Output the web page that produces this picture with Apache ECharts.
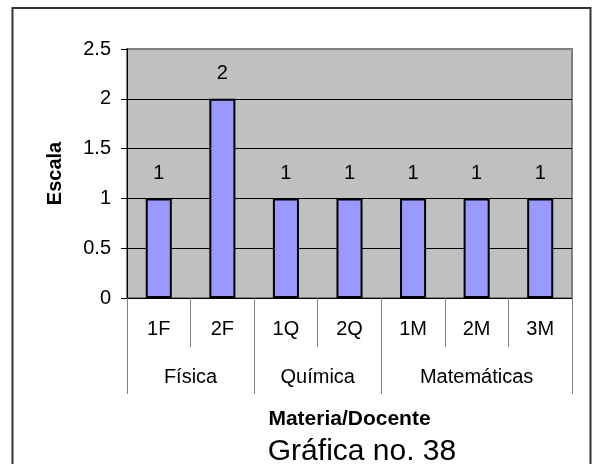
<!DOCTYPE html>
<html>
<head>
<meta charset="utf-8">
<script src="https://cdn.jsdelivr.net/npm/echarts@6/dist/echarts.min.js"></script>
<style>
html,body{margin:0;padding:0;background:#fff;}
#chart{width:592px;height:464px;}
</style>
</head>
<body>
<div id="chart"></div>
<script>
const categories = ['1F', '2F', '1Q', '2Q', '1M', '2M', '3M'];
const values = [1, 2, 1, 1, 1, 1, 1];
const groupNames = ['Física', 'Química', 'Matemáticas'];
const groupSizes = [2, 2, 3];
const yTicks = [0, 0.5, 1, 1.5, 2, 2.5];
const yAxisTitle = 'Escala';
const xAxisTitle = 'Materia/Docente';
const chartTitle = 'Gráfica no. 38';

const FONT = "'Liberation Sans', Arial, sans-serif";

// group boundaries and centres, in category units
const groupBounds = [0];
groupSizes.forEach((n, i) => groupBounds.push(groupBounds[i] + n));
const groupCenters = groupSizes.map((n, i) => groupBounds[i] + n / 2);

const chart = echarts.init(document.getElementById('chart'), null, {renderer: 'canvas'});
chart.setOption({
  animation: false,
  backgroundColor: '#ffffff',
  title: [{
    text: chartTitle,
    left: 357, top: 432, textAlign: 'center',
    textStyle: {fontFamily: FONT, fontSize: 30, fontWeight: 'normal', color: '#000'}
  }],
  graphic: [{
    type: 'rect',
    shape: {x: 12.5, y: 8, width: 578, height: 480},
    style: {fill: 'none', stroke: '#333333', lineWidth: 2},
    silent: true
  }],
  grid: {
    left: 127, top: 49, right: 20, bottom: 166,
    show: true, backgroundColor: '#C0C0C0', borderColor: '#808080', borderWidth: 2
  },
  xAxis: [{
    type: 'category',
    data: categories,
    position: 'bottom',
    boundaryGap: true,
    axisLine: {show: true, lineStyle: {color: '#000', width: 1}},
    axisTick: {show: true, interval: 0, length: 49, lineStyle: {color: '#808080', width: 1}},
    axisLabel: {interval: 0, margin: 21, fontFamily: FONT, fontSize: 20, color: '#000'},
    splitLine: {show: false},
    z: 5
  }, {
    type: 'value',
    position: 'bottom',
    min: 0, max: categories.length,
    name: xAxisTitle,
    nameLocation: 'middle',
    nameGap: 111,
    nameTextStyle: {fontFamily: FONT, fontSize: 21, fontWeight: 'bold', color: '#000'},
    axisLine: {show: false},
    axisTick: {show: true, customValues: groupBounds, length: 96, lineStyle: {color: '#808080', width: 1}},
    axisLabel: {
      show: true, customValues: groupCenters, margin: 69,
      fontFamily: FONT, fontSize: 20, color: '#000',
      formatter: function (v) {
        const i = groupCenters.indexOf(v);
        return i >= 0 ? groupNames[i] : '';
      }
    },
    splitLine: {show: false}
  }],
  yAxis: {
    type: 'value',
    min: yTicks[0], max: yTicks[yTicks.length - 1], interval: 0.5,
    name: yAxisTitle,
    nameLocation: 'middle',
    nameGap: 62,
    nameRotate: 90,
    nameTextStyle: {fontFamily: FONT, fontSize: 20, fontWeight: 'bold', color: '#000'},
    axisLine: {show: true, lineStyle: {color: '#000', width: 1}},
    axisTick: {show: true, inside: false, length: 6, lineStyle: {color: '#000'}},
    axisLabel: {margin: 16, fontFamily: FONT, fontSize: 20, color: '#000'},
    splitLine: {show: true, lineStyle: {color: ['#000', '#000', '#000', '#000', '#000', '#808080'], width: 1}}
  },
  series: [{
    type: 'bar',
    xAxisIndex: 0,
    data: values,
    barWidth: '41%',
    itemStyle: {color: '#9999FF', borderColor: '#000', borderWidth: 2},
    label: {show: true, position: 'top', distance: 15, fontFamily: FONT, fontSize: 20, color: '#000'},
    z: 3
  }]
});
</script>
</body>
</html>
